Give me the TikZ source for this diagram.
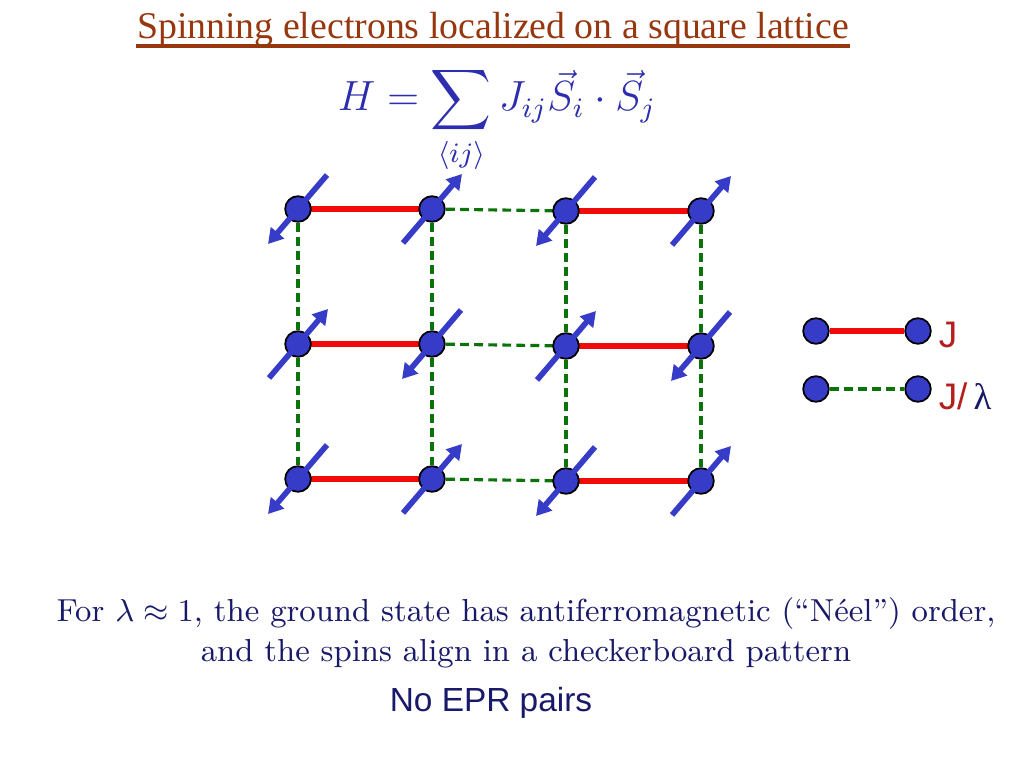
\documentclass[tikz,border=0pt]{standalone}
\usepackage{amsmath}
\usepackage{fontspec}
\newfontfamily\titlefont{Liberation Serif}
\newfontfamily\arialfont{Liberation Sans}
\definecolor{sltitle}{RGB}{150,55,15}
\definecolor{slblue}{RGB}{55,60,200}
\definecolor{slmath}{RGB}{45,45,175}
\definecolor{slnavy}{RGB}{25,25,105}
\definecolor{slred}{RGB}{240,10,10}
\definecolor{slgreen}{RGB}{10,115,10}
\definecolor{sljred}{RGB}{180,30,30}
\usetikzlibrary{arrows.meta,positioning}

\begin{document}
\begin{tikzpicture}[
  x=0.01cm,y=-0.01cm,
  site/.style={circle,draw=black,line width=0.5pt,fill=slblue,minimum size=7.3pt,inner sep=0pt},
  spin/.style={slblue,line width=1.6pt,-{Triangle[length=4.2pt,width=4.8pt]}},
  strong/.style={slred,line width=1.8pt},
  weak/.style={slgreen,line width=0.9pt,dash pattern=on 2.5pt off 1.5pt},
  legend/.style={font=\arialfont\fontsize{10.5}{12}\selectfont,text=sljred,inner sep=0pt},
]
  \useasboundingbox (0,0) rectangle (1024,768);

  % Title and Hamiltonian
  \node[font=\titlefont\fontsize{10.75}{12}\selectfont,text=sltitle,anchor=base,inner xsep=0pt] (title) at (493,39)
    {Spinning electrons localized on a square lattice};
  \draw[sltitle,line width=0.9pt] ([yshift=-2pt]title.base west) -- ([yshift=-2pt]title.base east);
  \node[text=slmath,font=\fontsize{11.5}{13}\selectfont] (ham) at (497,120)
    {$\displaystyle H=\sum_{\langle ij\rangle} J_{ij}\vec{S}_i\cdot\vec{S}_j$};

  % Lattice sites
  \foreach \c/\x in {0/298,1/432,2/566,3/701}
    \foreach \r/\y in {0/209,1/344,2/479}{
      \pgfmathsetmacro{\dy}{\c>1 ? 2 : 0}
      \coordinate (p\c\r) at (\x,\y+\dy);
    }

  % Bonds
  \foreach \r in {0,1,2}{
    \draw[strong] (p0\r) -- (p1\r);
    \draw[strong] (p2\r) -- (p3\r);
    \draw[weak] (p1\r) -- (p2\r);
  }
  \foreach \c in {0,...,3}{
    \draw[weak] (p\c0) -- (p\c1);
    \draw[weak] (p\c1) -- (p\c2);
  }

  % Electrons and spins
  \foreach \c in {0,...,3}
    \foreach \r in {0,1,2}{
      \node[site] (s\c\r) at (p\c\r) {};
      \pgfmathtruncatemacro{\up}{mod(\c+\r,2)}
      \ifnum\up=1
        \draw[spin] ([shift={(-29,34)}]s\c\r.center) -- ([shift={(30,-35)}]s\c\r.center);
      \else
        \draw[spin] ([shift={(29,-34)}]s\c\r.center) -- ([shift={(-30,35)}]s\c\r.center);
      \fi
    }

  % Legend
  \node[site] (ja) at (816,331) {};
  \node[site] (jb) at (918,331) {};
  \node[site] (la) at (816,389) {};
  \node[site] (lb) at (918,389) {};
  \draw[strong] (ja) -- (jb);
  \draw[weak] (la) -- (lb);
  \node[legend,right=1.8pt of jb,yshift=-1pt] (jlab) {J};
  \node[legend,right=1.8pt of lb,yshift=-2pt] (llab)
    {J/\,\textcolor{slnavy}{\titlefont λ}};

  % Caption
  \node[text=slnavy,align=center,font=\fontsize{9.05}{11.4}\selectfont] (cap) at (526,633)
    {For $\lambda\approx1$, the ground state has antiferromagnetic (``N\'eel'') order,\\
     and the spins align in a checkerboard pattern};
  \node[font=\arialfont\fontsize{9.5}{11}\selectfont,text=slnavy] (epr) at (491,703) {No EPR pairs};
\end{tikzpicture}
\end{document}
